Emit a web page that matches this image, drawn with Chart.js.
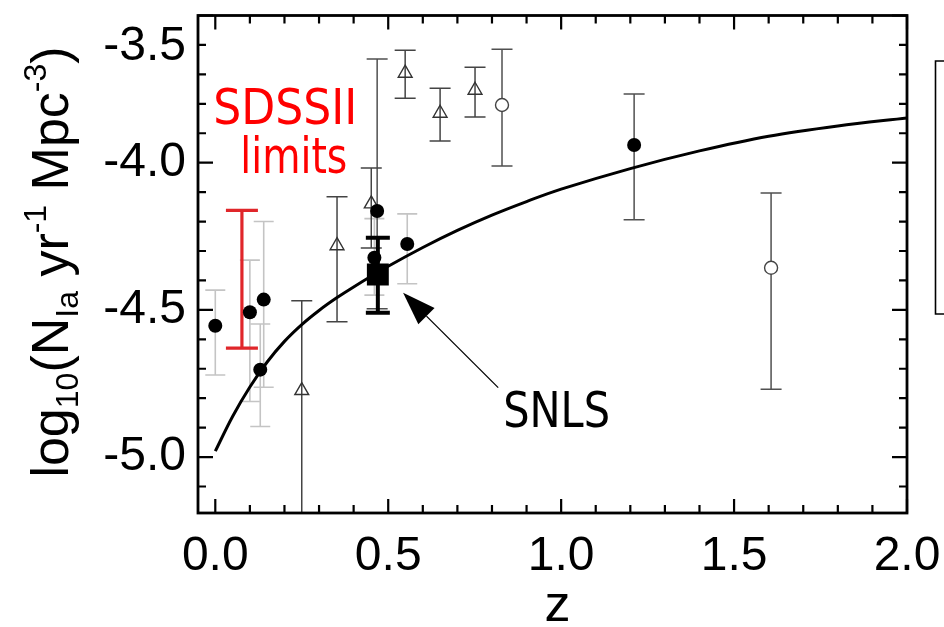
<!DOCTYPE html>
<html><head><meta charset="utf-8">
<script src="https://cdn.jsdelivr.net/npm/chart.js@4.4.0/dist/chart.umd.min.js"></script>
<style>html,body{margin:0;padding:0;background:#fff;}#wrap{width:944px;height:627px;position:relative;}</style>
</head><body><div id="wrap"><canvas id="c" width="944" height="627"></canvas></div>
<script>
// ---------- data ----------
const curveZ = [0.0,0.05,0.10,0.15,0.20,0.25,0.30,0.35,0.40,0.50,0.60,0.70,0.80,0.90,1.00,1.20,1.40,1.60,1.80,2.00];
const curveV = [-4.98,-4.862,-4.762,-4.677,-4.607,-4.55,-4.502,-4.46,-4.422,-4.352,-4.288,-4.23,-4.178,-4.132,-4.09,-4.02,-3.96,-3.91,-3.875,-3.848];

const lightZ  = [0.00, 0.10, 0.14, 0.13, 0.46, 0.555];
const lightV  = [-4.554,-4.508,-4.465,-4.703,-4.323,-4.276];
const lightLo = [-4.721,-4.811,-4.763,-4.896,-4.45,-4.411];
const lightHi = [-4.433,-4.331,-4.200,-4.548,-4.19,-4.174];

const darkZ  = [0.468, 1.211];
const darkV  = [-4.164,-3.94];
const darkLo = [-4.496,-4.194];
const darkHi = [-3.648,-3.767];

const triZ  = [0.25, 0.352, 0.451, 0.549, 0.65, 0.751];
const triV  = [-4.774,-4.282,-4.14,-3.696,-3.832,-3.754];
const triLo = [-5.40,-4.54,-4.29,-3.781,-3.926,-3.845];
const triHi = [-4.469,-4.116,-4.018,-3.618,-3.747,-3.676];

const openZ  = [0.829, 1.607];
const openV  = [-3.804,-4.357];
const openLo = [-4.011,-4.77];
const openHi = [-3.615,-4.103];

const snlsZ  = [0.47];
const snlsV  = [-4.38];
const snlsLo = [-4.51];
const snlsHi = [-4.255];

const sdssZ  = [0.077];
const sdssLo = [-4.63];
const sdssHi = [-4.162];

const xMajor = [0.0, 0.5, 1.0, 1.5, 2.0];
const xTickLabels = ['0.0','0.5','1.0','1.5','2.0'];
const xMinor = [0.1,0.2,0.3,0.4,0.6,0.7,0.8,0.9,1.1,1.2,1.3,1.4,1.6,1.7,1.8,1.9];
const yMajor = [-3.5,-4.0,-4.5,-5.0];
const yTickLabels = ['-3.5','-4.0','-4.5','-5.0'];
const yMinor = [-3.6,-3.7,-3.8,-3.9,-4.1,-4.2,-4.3,-4.4,-4.6,-4.7,-4.8,-4.9,-5.1];

// annotations (data coordinates)
const sdssText = [{t:'SDSSII', z:0.202, v:-3.869, w:144},{t:'limits', z:0.227, v:-4.035, w:107}];
const snlsText = {t:'SNLS', z:0.987, v:-4.899, w:107};
const arrowTip = {z:0.543, v:-4.442};
const arrowTail = {z:0.818, v:-4.764};

const pts = (zs, vs) => zs.map((z,i)=>({x:z, y:vs[i]}));

const overlay = {
  id:'overlay',
  beforeDatasetsDraw(chart){
    const ctx = chart.ctx, X = chart.scales.x, Y = chart.scales.y, a = chart.chartArea;
    ctx.save();
    ctx.beginPath(); ctx.rect(a.left, a.top, a.right-a.left, a.bottom-a.top); ctx.clip();
    function bars(zs, lo, hi, color, w, cap){
      ctx.strokeStyle = color; ctx.lineWidth = w; ctx.lineCap='butt';
      zs.forEach((z,i)=>{
        const x = X.getPixelForValue(z), y1 = Y.getPixelForValue(lo[i]), y2 = Y.getPixelForValue(hi[i]);
        ctx.beginPath();
        ctx.moveTo(x, y1); ctx.lineTo(x, y2);
        ctx.moveTo(x-cap/2, y1); ctx.lineTo(x+cap/2, y1);
        ctx.moveTo(x-cap/2, y2); ctx.lineTo(x+cap/2, y2);
        ctx.stroke();
      });
    }
    bars(lightZ, lightLo, lightHi, '#c4c4c4', 1.6, 20);
    bars(darkZ, darkLo, darkHi, '#505050', 1.5, 21);
    bars(triZ, triLo, triHi, '#444', 1.5, 21);
    bars(openZ, openLo, openHi, '#505050', 1.5, 21);
    bars(snlsZ, snlsLo, snlsHi, '#000', 4, 24);
    bars(sdssZ, sdssLo, sdssHi, '#e0262a', 3.2, 32);
    ctx.restore();
  },
  afterDatasetsDraw(chart){
    const ctx = chart.ctx, X = chart.scales.x, Y = chart.scales.y, a = chart.chartArea;
    ctx.save();
    // frame
    ctx.strokeStyle='#000'; ctx.lineWidth=2.8;
    ctx.strokeRect(a.left, a.top, a.right-a.left, a.bottom-a.top);
    // ticks
    ctx.lineWidth=2.2;
    const tick = (list, len) => {
      list.forEach(z=>{
        const x = X.getPixelForValue(z);
        ctx.beginPath();
        ctx.moveTo(x, a.bottom); ctx.lineTo(x, a.bottom-len);
        ctx.moveTo(x, a.top); ctx.lineTo(x, a.top+len);
        ctx.stroke();
      });
    };
    const ytick = (list, len) => {
      list.forEach(v=>{
        const y = Y.getPixelForValue(v);
        ctx.beginPath();
        ctx.moveTo(a.left, y); ctx.lineTo(a.left+len, y);
        ctx.moveTo(a.right, y); ctx.lineTo(a.right-len, y);
        ctx.stroke();
      });
    };
    tick(xMajor, 14); tick(xMinor, 8);
    ytick(yMajor, 15); ytick(yMinor, 8);
    // tick labels
    ctx.fillStyle='#000';
    ctx.font='48px "Liberation Sans", Arial, sans-serif';
    ctx.textAlign='center'; ctx.textBaseline='alphabetic';
    xMajor.forEach((z,i)=>{ ctx.fillText(xTickLabels[i], X.getPixelForValue(z), a.bottom+57); });
    ctx.textAlign='right'; ctx.textBaseline='middle';
    yMajor.forEach((v,i)=>{
      const y = Math.max(Y.getPixelForValue(v), a.top+31);
      ctx.fillText(yTickLabels[i], a.left-12, y);
    });
    // x title
    ctx.textAlign='center'; ctx.textBaseline='alphabetic';
    ctx.font='52px "Liberation Sans", Arial, sans-serif';
    ctx.fillText('z', (a.left+a.right)/2 + 5, 621);
    // y title rotated with sub/superscripts
    ctx.save();
    ctx.translate(68, 262);
    ctx.rotate(-Math.PI/2);
    const fs = 52, ss = 32;
    const parts = [
      ['log', fs, 0], ['10', ss, 10], ['(N', fs, 0], ['Ia', ss, 10], [' yr', fs, 0], ['-1', ss, -22],
      [' Mpc', fs, 0], ['-3', ss, -22], [')', fs, 0]
    ];
    let total = 0;
    parts.forEach(p=>{ ctx.font = p[1]+'px "Liberation Sans", Arial, sans-serif'; total += ctx.measureText(p[0]).width; });
    let cx = -total/2;
    ctx.textAlign='left'; ctx.textBaseline='alphabetic';
    parts.forEach(p=>{
      ctx.font = p[1]+'px "Liberation Sans", Arial, sans-serif';
      ctx.fillText(p[0], cx, p[2]);
      cx += ctx.measureText(p[0]).width;
    });
    ctx.restore();
    // annotation texts (fit to width)
    const fitText = (o, color) => {
      ctx.save();
      ctx.font='49px "DejaVu Sans", Verdana, sans-serif';
      ctx.fillStyle=color; ctx.textAlign='center'; ctx.textBaseline='alphabetic';
      const m = ctx.measureText(o.t).width;
      const x = X.getPixelForValue(o.z), y = Y.getPixelForValue(o.v);
      ctx.translate(x, y); ctx.scale(o.w/m, 1);
      ctx.fillText(o.t, 0, 0);
      ctx.restore();
    };
    sdssText.forEach(o=>fitText(o, '#ff0000'));
    fitText(snlsText, '#000');
    // arrow
    const tx = X.getPixelForValue(arrowTip.z), ty = Y.getPixelForValue(arrowTip.v);
    const sx = X.getPixelForValue(arrowTail.z), sy = Y.getPixelForValue(arrowTail.v);
    const ang = Math.atan2(ty-sy, tx-sx), L = 33, H = 11.5;
    const bx = tx - L*Math.cos(ang), by = ty - L*Math.sin(ang);
    ctx.strokeStyle='#000'; ctx.lineWidth=1.3;
    ctx.beginPath(); ctx.moveTo(sx, sy); ctx.lineTo(bx, by); ctx.stroke();
    ctx.fillStyle='#000';
    ctx.beginPath();
    ctx.moveTo(tx, ty);
    ctx.lineTo(bx + H*Math.sin(ang), by - H*Math.cos(ang));
    ctx.lineTo(bx - H*Math.sin(ang), by + H*Math.cos(ang));
    ctx.closePath(); ctx.fill();
    // partial legend box at right edge
    ctx.strokeStyle='#000'; ctx.lineWidth=1.6;
    ctx.beginPath();
    ctx.moveTo(950, 61); ctx.lineTo(935.5, 61); ctx.lineTo(935.5, 314); ctx.lineTo(950, 314);
    ctx.stroke();
    ctx.restore();
  }
};

new Chart(document.getElementById('c'), {
  type:'scatter',
  data:{ datasets:[
    {type:'line', data:pts(curveZ, curveV), borderColor:'#000', borderWidth:3, pointRadius:0, tension:0.35, fill:false, order:10},
    {data:pts(lightZ, lightV), pointStyle:'circle', pointRadius:7, backgroundColor:'#000', borderColor:'#000', borderWidth:0, order:2},
    {data:pts(darkZ, darkV), pointStyle:'circle', pointRadius:7, backgroundColor:'#000', borderColor:'#000', borderWidth:0, order:2},
    {data:pts(triZ, triV), pointStyle:'triangle', pointRadius:8, backgroundColor:'rgba(0,0,0,0)', borderColor:'#333', borderWidth:1.4, order:3},
    {data:pts(openZ, openV), pointStyle:'circle', pointRadius:6.5, backgroundColor:'#fff', borderColor:'#444', borderWidth:1.4, order:3},
    {data:pts(snlsZ, snlsV), pointStyle:'rect', pointRadius:15.5, backgroundColor:'#000', borderColor:'#000', borderWidth:0, order:0}
  ]},
  options:{
    responsive:false, animation:false, devicePixelRatio:1,
    layout:{padding:{left:198, right:37, top:14, bottom:114}},
    plugins:{legend:{display:false}, tooltip:{enabled:false}},
    scales:{
      x:{type:'linear', min:-0.05, max:2.0, display:false},
      y:{type:'linear', min:-5.19, max:-3.5, display:false}
    }
  },
  plugins:[overlay]
});
</script></body></html>
